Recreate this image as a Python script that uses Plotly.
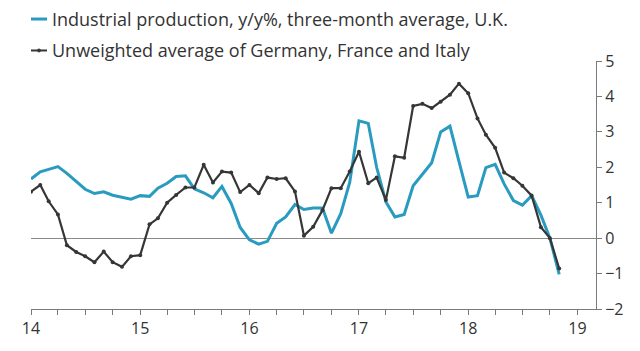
import pandas as pd
import plotly.graph_objects as go

months = pd.date_range("2014-01-01", periods=59, freq="MS")

uk_ip = [1.67, 1.87, 1.94, 2.02, 1.83, 1.60, 1.38, 1.26, 1.31, 1.21, 1.15, 1.10,
         1.20, 1.18, 1.41, 1.55, 1.74, 1.76, 1.39, 1.28, 1.14, 1.46, 0.98, 0.30,
         -0.05, -0.17, -0.09, 0.42, 0.60, 0.95, 0.81, 0.85, 0.85, 0.14, 0.69, 1.57,
         3.31, 3.24, 2.00, 1.02, 0.60, 0.67, 1.48, 1.80, 2.13, 3.00, 3.16, 2.17,
         1.16, 1.20, 1.99, 2.08, 1.53, 1.06, 0.93, 1.20, 0.65, 0.00, -1.02]

eu3_avg = [1.31, 1.50, 1.04, 0.67, -0.20, -0.39, -0.51, -0.68, -0.38, -0.68, -0.81, -0.51,
           -0.48, 0.39, 0.56, 1.00, 1.22, 1.43, 1.43, 2.07, 1.57, 1.88, 1.85, 1.30,
           1.50, 1.27, 1.71, 1.67, 1.69, 1.32, 0.07, 0.32, 0.79, 1.41, 1.41, 1.88,
           2.44, 1.55, 1.71, 1.08, 2.31, 2.27, 3.73, 3.79, 3.67, 3.85, 4.05, 4.36,
           4.09, 3.38, 2.92, 2.55, 1.85, 1.69, 1.48, 1.20, 0.31, 0.00, -0.86]

legend_labels = ["Industrial production, y/y%, three-month average, U.K.",
                 "Unweighted average of Germany, France and Italy"]

BLUE = "#2a9bc0"
DARK = "#363636"
AXIS = "#7a7a7a"
FONT = "Open Sans"

fig = go.Figure()
fig.add_trace(go.Scatter(x=months, y=uk_ip, mode="lines",
                         line=dict(color=BLUE, width=3), name=legend_labels[0]))
fig.add_trace(go.Scatter(x=months, y=eu3_avg, mode="lines+markers",
                         line=dict(color=DARK, width=2.2),
                         marker=dict(color=DARK, size=4), name=legend_labels[1]))

# legend drawn manually (short symbols like the original)
W = 565.0
H = 252.3
def px_x(p):
    return (p - 31) / W
def px_y(p):
    return (313 - p) / H

for label, color, ypix, mark in [(legend_labels[0], BLUE, 18, False),
                                 (legend_labels[1], DARK, 50, True)]:
    fig.add_shape(type="line", xref="paper", yref="paper",
                  x0=px_x(31), x1=px_x(47), y0=px_y(ypix), y1=px_y(ypix),
                  line=dict(color=color, width=3 if not mark else 2))
    if mark:
        fig.add_shape(type="circle", xref="paper", yref="paper",
                      x0=px_x(37.5), x1=px_x(40.5), y0=px_y(ypix + 1.5), y1=px_y(ypix - 1.5),
                      fillcolor=color, line=dict(color=color, width=1))
    fig.add_annotation(xref="paper", yref="paper", x=px_x(50), y=px_y(ypix),
                       xanchor="left", yanchor="middle", showarrow=False,
                       text=label, font=dict(family=FONT, size=18, color="#333333"))

fig.update_layout(
    width=640, height=351,
    margin=dict(l=31, r=44, t=60.7, b=38),
    paper_bgcolor="white", plot_bgcolor="white",
    showlegend=False,
    font=dict(family=FONT, size=16, color="#333333"),
)
fig.update_xaxes(
    type="date", range=["2014-01-01", "2019-03-04"],
    tickformat="%y", dtick="M12", tick0="2014-01-01",
    showline=True, linecolor=AXIS, linewidth=1,
    ticks="outside", ticklen=5, tickcolor=AXIS, tickwidth=1,
    minor=dict(dtick="M3", ticks="outside", ticklen=5, tickcolor=AXIS, tickwidth=1, showgrid=False),
    showgrid=False, zeroline=False,
    tickfont=dict(family=FONT, size=16, color="#333333"),
)
fig.update_yaxes(
    side="right", range=[-2, 5], dtick=1,
    showline=True, linecolor=AXIS, linewidth=1,
    ticks="outside", ticklen=5, tickcolor=AXIS, tickwidth=1,
    showgrid=False, zeroline=True, zerolinecolor="#8a8a8a", zerolinewidth=1,
    tickfont=dict(family=FONT, size=16, color="#333333"),
)

fig.write_html("out.html")
